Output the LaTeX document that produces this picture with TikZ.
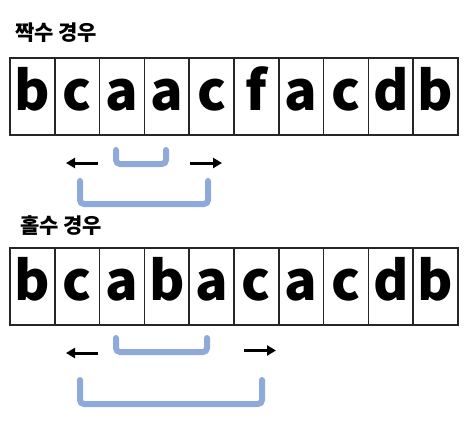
\documentclass[tikz,border=0pt]{standalone}
\usepackage{fontspec}
\setmainfont{Noto Sans CJK KR}
\usetikzlibrary{arrows.meta}
\definecolor{bracketblue}{HTML}{8EAADB}
\definecolor{gridline}{HTML}{262626}
\tikzset{
  cell/.style={draw=gridline, line width=1.6pt, minimum width=44.8pt, minimum height=77pt, inner sep=0pt, outer sep=0pt},
  letter/.style={anchor=base, inner sep=0pt, font=\fontsize{54}{54}\selectfont\bfseries},
  title/.style={anchor=base west, inner sep=0pt, font=\fontsize{21}{21}\selectfont\bfseries},
  bracket/.style={draw=bracketblue, line width=6pt, line cap=round, rounded corners=4pt},
  arr/.style={draw=black, line width=3pt, -{Triangle[length=9pt,width=10pt]}}
}
\begin{document}
\begin{tikzpicture}[x=1pt,y=-1pt]
\useasboundingbox (0,0) rectangle (470,429);
% titles
\node[title] (t1) at (15,40) {짝수 경우};
\node[title] (t2) at (20,233) {홀수 경우};
% top row
\foreach \ch [count=\i] in {b,c,a,a,c,f,a,c,d,b}{
  \node[cell] (a\i) at ({10+44.8*(\i-0.5)},96.5) {};
  \node[letter] (la\i) at ([yshift=25pt]a\i.south) {\ch};
}
% bottom row
\foreach \ch [count=\i] in {b,c,a,b,a,c,a,c,d,b}{
  \node[cell] (b\i) at ({10+44.8*(\i-0.5)},286.5) {};
  \node[letter] (lb\i) at ([yshift=25pt]b\i.south) {\ch};
}
% top brackets & arrows
\coordinate (s1a) at (116,150);
\coordinate (s1b) at (166,150);
\draw[bracket] (s1a) |- (141,164) -| (s1b);
\coordinate (g1a) at (80,181);
\coordinate (g1b) at (208,181);
\draw[bracket] (g1a) |- (144,204) -| (g1b);
\coordinate (la1s) at (98,163);
\coordinate (la1e) at (66,163);
\draw[arr] (la1s) -- (la1e);
\coordinate (ra1s) at (190,163);
\coordinate (ra1e) at (222,163);
\draw[arr] (ra1s) -- (ra1e);
% bottom brackets & arrows
\coordinate (s2a) at (116,338);
\coordinate (s2b) at (207,338);
\draw[bracket] (s2a) |- (160,352) -| (s2b);
\coordinate (g2a) at (80,380);
\coordinate (g2b) at (262,380);
\draw[bracket] (g2a) |- (170,404) -| (g2b);
\coordinate (la2s) at (98,353);
\coordinate (la2e) at (66,353);
\draw[arr] (la2s) -- (la2e);
\coordinate (ra2s) at (244,350.5);
\coordinate (ra2e) at (276,350.5);
\draw[arr] (ra2s) -- (ra2e);
\end{tikzpicture}
\end{document}
